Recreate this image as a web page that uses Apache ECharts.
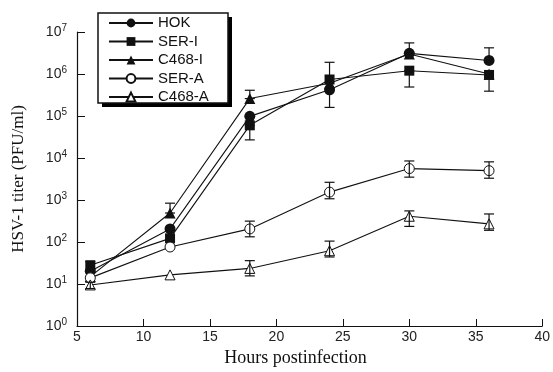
<!DOCTYPE html>
<html>
<head>
<meta charset="utf-8">
<script src="https://cdn.jsdelivr.net/npm/echarts@6/dist/echarts.min.js"></script>
<style>
  html, body { margin: 0; padding: 0; background: #fff; }
  #chart { width: 553px; height: 372px; }
</style>
</head>
<body>
<div id="chart"></div>
<script>
// hours after infection
var hours = [6, 12, 18, 24, 30, 36];

// titers (PFU/ml)
var hok   = [20, 205, 98000, 420000, 3100000, 2100000];
var serI  = [28, 122, 60000, 740000, 1200000, 950000];
var c468I = [15, 490, 260000, 600000, 3000000, 1000000];
var serA  = [14, 76, 205, 1540, 5600, 5000];
var c468A = [9.5, 16.5, 23.5, 62, 410, 270];

// error bars [low, high], null = none visible
var hokErr   = [null, null, null, [160000, 1900000], [3100000, 5500000], [2100000, 4200000]];
var serIErr  = [[22, 34], null, [27000, 60000], null, [490000, 1200000], [390000, 950000]];
var c468IErr = [null, [490, 840], [260000, 410000], null, null, null];
var serAErr  = [null, null, [133, 314], [1070, 2640], [3500, 8500], [3300, 8100]];
var c468AErr = [[7.8, 11], null, [15.6, 36], [44, 105], [235, 550], [190, 465]];

var yTicks = ['10{s|0}', '10{s|1}', '10{s|2}', '10{s|3}', '10{s|4}', '10{s|5}', '10{s|6}', '10{s|7}'];

function pairs(vals){
    return hours.map(function(h, i){ return [h, vals[i]]; });
}

function errData(errs){
    var out = [];
    errs.forEach(function(e, i){
        if(e){ out.push([hours[i], e[0], e[1]]); }
    });
    return out;
}

function renderErr(params, api){
    var x = api.value(0);
    var lo = api.coord([x, api.value(1)]);
    var hi = api.coord([x, api.value(2)]);
    var w = 5;
    var st = { stroke: '#111', lineWidth: 1.2 };
    return {
        type: 'group',
        children: [
            { type: 'line', shape: { x1: lo[0], y1: lo[1], x2: hi[0], y2: hi[1] }, style: st },
            { type: 'line', shape: { x1: hi[0] - w, y1: hi[1], x2: hi[0] + w, y2: hi[1] }, style: st },
            { type: 'line', shape: { x1: lo[0] - w, y1: lo[1], x2: lo[0] + w, y2: lo[1] }, style: st }
        ]
    };
}

// open = white fill with a thin black outline
function lineSeries(name, vals, symbol, size, open){
    return {
        name: name,
        type: 'line',
        data: pairs(vals),
        symbol: symbol,
        symbolSize: size,
        showAllSymbol: true,
        z: 3,
        lineStyle: { color: '#111', width: 1.1 },
        itemStyle: open ? { color: '#fff', borderColor: '#111', borderWidth: 1 } : { color: '#111', borderWidth: 0 }
    };
}

// bars sit on top so they show through the open markers
function errSeries(errs){
    return {
        type: 'custom',
        renderItem: renderErr,
        data: errData(errs),
        z: 4,
        silent: true,
        encode: { x: 0, y: [1, 2] }
    };
}

var option = {
    animation: false,
    backgroundColor: '#fff',
    grid: { left: 77, right: 10, top: 32, bottom: 39 },
    // legend frame with its solid drop shadow
    graphic: [
        { type: 'rect', z: 0, shape: { x: 102, y: 17, width: 130, height: 90 }, style: { fill: '#000' } },
        { type: 'rect', z: 1, shape: { x: 98, y: 13, width: 130, height: 90 }, style: { fill: '#fff', stroke: '#111', lineWidth: 1.5 } }
    ],
    legend: {
        orient: 'vertical',
        left: 108,
        top: 15,
        z: 10,
        padding: 0,
        itemWidth: 44,
        itemHeight: 11,
        itemGap: 2.5,
        textStyle: { fontFamily: 'Liberation Sans', fontSize: 15, lineHeight: 16, color: '#111' },
        data: ['HOK', 'SER-I', 'C468-I', 'SER-A', 'C468-A']
    },
    xAxis: {
        type: 'value',
        min: 5,
        max: 40,
        interval: 5,
        name: 'Hours postinfection',
        nameLocation: 'middle',
        nameGap: 23,
        nameTextStyle: { fontFamily: 'Liberation Serif', fontSize: 18, color: '#111', padding: [0, 28, 0, 0] },
        axisLine: { lineStyle: { color: '#111', width: 1.2 } },
        axisTick: { inside: true, length: 7, lineStyle: { color: '#111' } },
        axisLabel: { fontFamily: 'Liberation Sans', fontSize: 14, color: '#222', margin: 4 },
        splitLine: { show: false }
    },
    yAxis: {
        type: 'log',
        logBase: 10,
        min: 1,
        max: 10000000,
        name: 'HSV-1 titer (PFU/ml)',
        nameLocation: 'middle',
        nameGap: 50,
        nameTextStyle: { fontFamily: 'Liberation Serif', fontSize: 17, color: '#111' },
        axisLine: { show: true, lineStyle: { color: '#111', width: 1.2 } },
        axisTick: { show: true, inside: true, length: 8, lineStyle: { color: '#111' } },
        axisLabel: {
            margin: 10,
            color: '#222',
            fontFamily: 'Liberation Sans',
            fontSize: 14,
            formatter: function(v){
                var e = Math.round(Math.log(v) / Math.LN10);
                return yTicks[e];
            },
            rich: {
                s: { fontSize: 10, verticalAlign: 'top', padding: [0, 0, 8, 0], fontFamily: 'Liberation Sans', color: '#222' }
            }
        },
        splitLine: { show: false }
    },
    series: [
        errSeries(hokErr),
        errSeries(serIErr),
        errSeries(c468IErr),
        errSeries(serAErr),
        errSeries(c468AErr),
        lineSeries('HOK', hok, 'circle', 11, false),
        lineSeries('SER-I', serI, 'rect', 10, false),
        lineSeries('C468-I', c468I, 'triangle', 11, false),
        lineSeries('SER-A', serA, 'circle', 10, true),
        lineSeries('C468-A', c468A, 'triangle', 10, true)
    ]
};

var chart = echarts.init(document.getElementById('chart'));
chart.setOption(option);
</script>
</body>
</html>
